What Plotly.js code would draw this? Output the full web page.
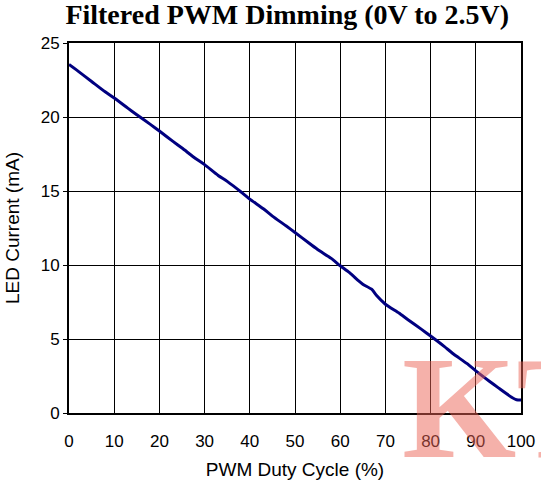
<!DOCTYPE html>
<html>
<head>
<meta charset="utf-8">
<script src="https://cdn.plot.ly/plotly-3.0.1.min.js"></script>
<style>html,body{margin:0;padding:0;background:#fff;}#chart{width:541px;height:484px;}</style>
</head>
<body>
<div id="chart"></div>
<script>
const dutyCycle = [0, 2, 5, 8, 10, 13, 15, 18, 20, 23, 25, 28, 30, 33, 35, 38, 40, 43, 45, 48, 50, 53, 55, 58, 60, 62, 64, 65, 67, 68, 70, 73, 75, 78, 80, 83, 85, 88, 90, 93, 95, 98, 99, 100];
const ledCurrent = [23.55, 23.1, 22.4, 21.7, 21.28, 20.6, 20.15, 19.5, 19.05, 18.35, 17.9, 17.2, 16.78, 16.05, 15.65, 14.95, 14.45, 13.8, 13.3, 12.65, 12.2, 11.5, 11.05, 10.45, 9.95, 9.5, 8.95, 8.7, 8.35, 7.95, 7.35, 6.75, 6.3, 5.65, 5.2, 4.5, 4.0, 3.35, 2.85, 2.15, 1.7, 1.05, 0.9, 0.88];
const xTicks = [0, 10, 20, 30, 40, 50, 60, 70, 80, 90, 100];
const yTicks = [0, 5, 10, 15, 20, 25];

const trace = {
  x: dutyCycle, y: ledCurrent, type: 'scatter', mode: 'lines',
  line: {color: '#000080', width: 3, shape: 'spline', smoothing: 0.6},
  hoverinfo: 'skip'
};

const layout = {
  width: 541, height: 484,
  margin: {l: 69, r: 20, t: 43, b: 71},
  paper_bgcolor: '#fff', plot_bgcolor: '#fff',
  showlegend: false,
  title: {
    text: '<b>Filtered PWM Dimming (0V to 2.5V)</b>',
    font: {family: 'Liberation Serif, Times New Roman, serif', size: 28, color: '#000'},
    x: 0.531, xanchor: 'center', y: 0.991, yanchor: 'top'
  },
  xaxis: {
    range: [0, 100], tickvals: xTicks, ticktext: xTicks.map(String),
    showgrid: true, gridcolor: '#000', gridwidth: 1,
    showline: true, linecolor: '#000', linewidth: 2, mirror: true,
    zeroline: false, ticks: '', ticklen: 0, ticklabelstandoff: 12,
    tickfont: {family: 'Liberation Sans, Arial, sans-serif', size: 17, color: '#000'},
    title: {text: 'PWM Duty Cycle (%)', font: {family: 'Liberation Sans, Arial, sans-serif', size: 19, color: '#000'}, standoff: 12}
  },
  yaxis: {
    range: [0, 25], tickvals: yTicks, ticktext: yTicks.map(String),
    showgrid: true, gridcolor: '#000', gridwidth: 1,
    showline: true, linecolor: '#000', linewidth: 2, mirror: true,
    zeroline: false, ticks: 'outside', ticklen: 4, tickcolor: '#000',
    tickfont: {family: 'Liberation Sans, Arial, sans-serif', size: 17, color: '#000'},
    title: {text: 'LED Current (mA)', font: {family: 'Liberation Sans, Arial, sans-serif', size: 19, color: '#000'}, standoff: 16}
  },
  annotations: [{
    text: '<b>KT</b>', xref: 'paper', yref: 'paper', x: 0.733, y: -0.21,
    xanchor: 'left', yanchor: 'bottom', showarrow: false,
    font: {family: 'Liberation Serif, Times New Roman, serif', size: 147, color: 'rgba(235,100,85,0.5)'}
  }]
};

Plotly.newPlot('chart', [trace], layout, {displayModeBar: false, staticPlot: true});
</script>
</body>
</html>
